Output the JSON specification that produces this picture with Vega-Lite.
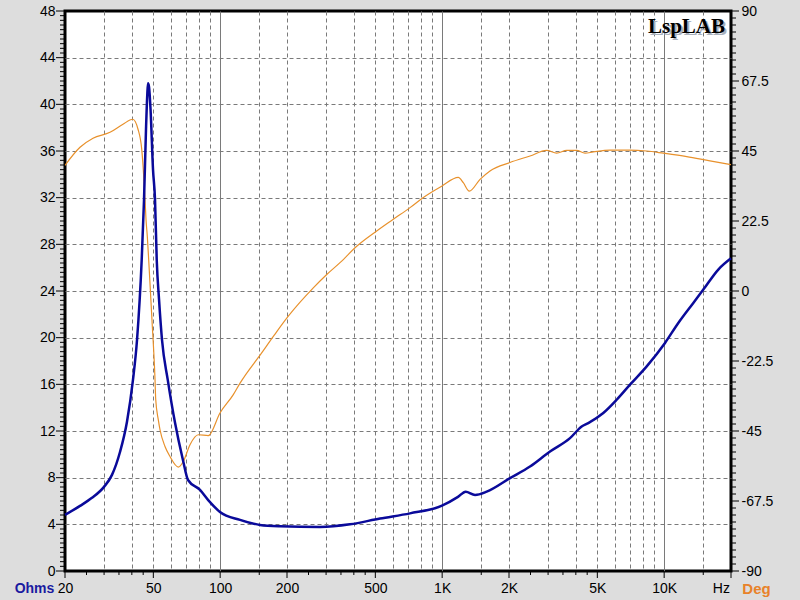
{
  "$schema": "https://vega.github.io/schema/vega-lite/v6.json",
  "width": 666,
  "height": 560,
  "autosize": {"type": "none"},
  "padding": {"left": 65, "top": 11, "right": 69, "bottom": 29},
  "background": "#DDDDDD",
  "config": {
    "view": {"fill": "#FFFFFF", "stroke": "#000000", "strokeWidth": 3},
    "axis": {
      "labelFont": "Liberation Sans",
      "labelFontSize": 14,
      "labelColor": "#000000",
      "tickColor": "#000000",
      "tickOpacity": 0,
      "domain": false,
      "labelOverlap": false,
      "labelFlush": false,
      "gridColor": "#7A7A7A",
      "gridWidth": 1,
      "titleFont": "Liberation Sans"
    }
  },
  "datasets": {
    "z": [
      {"f": 20, "z": 4.81}, {"f": 23.37, "z": 5.58}, {"f": 26.46, "z": 6.27}, {"f": 29.98, "z": 7.21},
      {"f": 32.56, "z": 8.24}, {"f": 35.38, "z": 10.2}, {"f": 38.04, "z": 12.8}, {"f": 40.49, "z": 16.4},
      {"f": 42.21, "z": 19.8}, {"f": 44.32, "z": 26.7}, {"f": 45.39, "z": 31.8}, {"f": 46.34, "z": 37.9},
      {"f": 46.97, "z": 40.9}, {"f": 47.31, "z": 41.8}, {"f": 47.81, "z": 41.5}, {"f": 48.56, "z": 39.6},
      {"f": 49.83, "z": 34.4}, {"f": 50.88, "z": 31.8}, {"f": 51.78, "z": 26.7}, {"f": 53.03, "z": 23.3},
      {"f": 54.71, "z": 19.8}, {"f": 58.04, "z": 16.4}, {"f": 62.61, "z": 12.7}, {"f": 68.01, "z": 9.5},
      {"f": 71.63, "z": 7.8}, {"f": 81.12, "z": 6.95}, {"f": 88.13, "z": 6.1}, {"f": 99.81, "z": 5.06},
      {"f": 122.9, "z": 4.38}, {"f": 151.1, "z": 3.95}, {"f": 186, "z": 3.84}, {"f": 281.7, "z": 3.78},
      {"f": 384.5, "z": 4.0}, {"f": 524.8, "z": 4.5}, {"f": 716.3, "z": 4.94}, {"f": 998, "z": 5.6},
      {"f": 1178, "z": 6.35}, {"f": 1276, "z": 6.8}, {"f": 1406, "z": 6.52}, {"f": 1587, "z": 6.8},
      {"f": 2021, "z": 7.96}, {"f": 2487, "z": 8.95}, {"f": 3060, "z": 10.24}, {"f": 3766, "z": 11.39},
      {"f": 4250, "z": 12.39}, {"f": 4552, "z": 12.68}, {"f": 5318, "z": 13.54}, {"f": 6112, "z": 14.68},
      {"f": 7016, "z": 15.97}, {"f": 8344, "z": 17.54}, {"f": 10088, "z": 19.55}, {"f": 11578, "z": 21.26},
      {"f": 13530, "z": 22.98}, {"f": 15008, "z": 24.12}, {"f": 17532, "z": 25.84}, {"f": 20000, "z": 26.8}
    ],
    "p": [
      {"f": 20, "p": 40.4}, {"f": 23.37, "p": 46.2}, {"f": 26.74, "p": 49.1}, {"f": 31.89, "p": 51.0},
      {"f": 36.49, "p": 53.6}, {"f": 40.37, "p": 55.2}, {"f": 42.65, "p": 52.0}, {"f": 44.32, "p": 45.6},
      {"f": 45.06, "p": 39.0}, {"f": 45.86, "p": 29.5}, {"f": 46.34, "p": 23.0}, {"f": 46.97, "p": 17.5},
      {"f": 47.64, "p": 10.1}, {"f": 49.3, "p": -9.3}, {"f": 50.88, "p": -28.5}, {"f": 51.25, "p": -34.9},
      {"f": 52.65, "p": -41.4}, {"f": 53.58, "p": -44.6}, {"f": 56.43, "p": -50.0}, {"f": 59.43, "p": -53.2},
      {"f": 64.77, "p": -56.6}, {"f": 68.22, "p": -54.8}, {"f": 73.13, "p": -49.4}, {"f": 79.71, "p": -46.2},
      {"f": 88.41, "p": -46.5}, {"f": 99.81, "p": -39.2}, {"f": 114.6, "p": -33.3}, {"f": 122.9, "p": -29.6},
      {"f": 153.8, "p": -19.9}, {"f": 173.6, "p": -14.6}, {"f": 202.7, "p": -8.1}, {"f": 262.7, "p": 1.0},
      {"f": 302, "p": 5.3}, {"f": 358.7, "p": 10.1}, {"f": 404.9, "p": 13.9}, {"f": 507.1, "p": 19.3},
      {"f": 600.4, "p": 23.0}, {"f": 716.3, "p": 26.8}, {"f": 819.6, "p": 30.0}, {"f": 995, "p": 33.7},
      {"f": 1182, "p": 36.5}, {"f": 1245, "p": 34.8}, {"f": 1325, "p": 32.1}, {"f": 1481, "p": 35.9},
      {"f": 1642, "p": 38.6}, {"f": 2021, "p": 41.3}, {"f": 2487, "p": 43.4}, {"f": 2957, "p": 45.2},
      {"f": 3280, "p": 44.3}, {"f": 3639, "p": 45.2}, {"f": 4036, "p": 45.2}, {"f": 4398, "p": 44.3},
      {"f": 4795, "p": 44.7}, {"f": 5700, "p": 45.3}, {"f": 7016, "p": 45.3}, {"f": 8344, "p": 45.0},
      {"f": 9912, "p": 44.3}, {"f": 12634, "p": 43.2}, {"f": 16086, "p": 41.8}, {"f": 20000, "p": 40.6}
    ],
    "leftMinor": [
      {"v": 0.4}, {"v": 0.8}, {"v": 1.2}, {"v": 1.6}, {"v": 2}, {"v": 2.4}, {"v": 2.8}, {"v": 3.2}, {"v": 3.6},
      {"v": 4.4}, {"v": 4.8}, {"v": 5.2}, {"v": 5.6}, {"v": 6}, {"v": 6.4}, {"v": 6.8}, {"v": 7.2}, {"v": 7.6},
      {"v": 8.4}, {"v": 8.8}, {"v": 9.2}, {"v": 9.6}, {"v": 10}, {"v": 10.4}, {"v": 10.8}, {"v": 11.2}, {"v": 11.6},
      {"v": 12.4}, {"v": 12.8}, {"v": 13.2}, {"v": 13.6}, {"v": 14}, {"v": 14.4}, {"v": 14.8}, {"v": 15.2}, {"v": 15.6},
      {"v": 16.4}, {"v": 16.8}, {"v": 17.2}, {"v": 17.6}, {"v": 18}, {"v": 18.4}, {"v": 18.8}, {"v": 19.2}, {"v": 19.6},
      {"v": 20.4}, {"v": 20.8}, {"v": 21.2}, {"v": 21.6}, {"v": 22}, {"v": 22.4}, {"v": 22.8}, {"v": 23.2}, {"v": 23.6},
      {"v": 24.4}, {"v": 24.8}, {"v": 25.2}, {"v": 25.6}, {"v": 26}, {"v": 26.4}, {"v": 26.8}, {"v": 27.2}, {"v": 27.6},
      {"v": 28.4}, {"v": 28.8}, {"v": 29.2}, {"v": 29.6}, {"v": 30}, {"v": 30.4}, {"v": 30.8}, {"v": 31.2}, {"v": 31.6},
      {"v": 32.4}, {"v": 32.8}, {"v": 33.2}, {"v": 33.6}, {"v": 34}, {"v": 34.4}, {"v": 34.8}, {"v": 35.2}, {"v": 35.6},
      {"v": 36.4}, {"v": 36.8}, {"v": 37.2}, {"v": 37.6}, {"v": 38}, {"v": 38.4}, {"v": 38.8}, {"v": 39.2}, {"v": 39.6},
      {"v": 40.4}, {"v": 40.8}, {"v": 41.2}, {"v": 41.6}, {"v": 42}, {"v": 42.4}, {"v": 42.8}, {"v": 43.2}, {"v": 43.6},
      {"v": 44.4}, {"v": 44.8}, {"v": 45.2}, {"v": 45.6}, {"v": 46}, {"v": 46.4}, {"v": 46.8}, {"v": 47.2}, {"v": 47.6}
    ],
    "leftMajor": [
      {"v": 0}, {"v": 4}, {"v": 8}, {"v": 12}, {"v": 16}, {"v": 20}, {"v": 24}, {"v": 28}, {"v": 32}, {"v": 36}, {"v": 40}, {"v": 44}, {"v": 48}
    ],
    "rightMinor": [
      {"v": -87.75}, {"v": -85.5}, {"v": -83.25}, {"v": -81}, {"v": -78.75}, {"v": -76.5}, {"v": -74.25}, {"v": -72}, {"v": -69.75},
      {"v": -65.25}, {"v": -63}, {"v": -60.75}, {"v": -58.5}, {"v": -56.25}, {"v": -54}, {"v": -51.75}, {"v": -49.5}, {"v": -47.25},
      {"v": -42.75}, {"v": -40.5}, {"v": -38.25}, {"v": -36}, {"v": -33.75}, {"v": -31.5}, {"v": -29.25}, {"v": -27}, {"v": -24.75},
      {"v": -20.25}, {"v": -18}, {"v": -15.75}, {"v": -13.5}, {"v": -11.25}, {"v": -9}, {"v": -6.75}, {"v": -4.5}, {"v": -2.25},
      {"v": 2.25}, {"v": 4.5}, {"v": 6.75}, {"v": 9}, {"v": 11.25}, {"v": 13.5}, {"v": 15.75}, {"v": 18}, {"v": 20.25},
      {"v": 24.75}, {"v": 27}, {"v": 29.25}, {"v": 31.5}, {"v": 33.75}, {"v": 36}, {"v": 38.25}, {"v": 40.5}, {"v": 42.75},
      {"v": 47.25}, {"v": 49.5}, {"v": 51.75}, {"v": 54}, {"v": 56.25}, {"v": 58.5}, {"v": 60.75}, {"v": 63}, {"v": 65.25},
      {"v": 69.75}, {"v": 72}, {"v": 74.25}, {"v": 76.5}, {"v": 78.75}, {"v": 81}, {"v": 83.25}, {"v": 85.5}, {"v": 87.75}
    ],
    "rightMajor": [
      {"v": -90}, {"v": -67.5}, {"v": -45}, {"v": -22.5}, {"v": 0}, {"v": 22.5}, {"v": 45}, {"v": 67.5}, {"v": 90}
    ],
    "bottomMinor": [
      {"v": 25}, {"v": 30}, {"v": 35}, {"v": 40}, {"v": 45}, {"v": 150}, {"v": 250}, {"v": 300}, {"v": 350}, {"v": 400}, {"v": 450},
      {"v": 1500}, {"v": 2500}, {"v": 3000}, {"v": 3500}, {"v": 4000}, {"v": 4500}, {"v": 15000}
    ],
    "bottomMajor": [
      {"v": 20}, {"v": 50}, {"v": 100}, {"v": 200}, {"v": 500}, {"v": 1000}, {"v": 2000}, {"v": 5000}, {"v": 10000}, {"v": 20000}
    ]
  },
  "layer": [
    {
      "layer": [
        {
          "data": {"name": "p"},
          "mark": {"type": "line", "color": "#E8912C", "strokeWidth": 1.2, "interpolate": "monotone"},
          "encoding": {
            "x": {
              "field": "f",
              "type": "quantitative",
              "scale": {"type": "log", "domain": [20, 20000], "nice": false},
              "axis": {
                "title": null,
                "tickCount": 1000,
                "values": [20, 30, 40, 50, 60, 70, 80, 90, 100, 150, 200, 300, 400, 500, 600, 700, 800, 900, 1000, 1500, 2000, 3000, 4000, 5000, 6000, 7000, 8000, 9000, 10000, 15000, 18000],
                "labelExpr": "datum.value == 18000 ? 'Hz' : (indexof([1000, 2000, 5000, 10000], datum.value) >= 0 ? (datum.value / 1000) + 'K' : (indexof([20, 50, 100, 200, 500], datum.value) >= 0 ? '' + datum.value : ''))",
                "labelPadding": 4,
                "tickSize": 6,
                "grid": true,
                "gridOpacity": {"condition": {"test": "datum.value == 20 || datum.value == 18000", "value": 0}, "value": 1},
                "gridDash": {"condition": {"test": "indexof([100, 1000, 10000], datum.value) >= 0", "value": []}, "value": [4, 3]}
              }
            },
            "y": {
              "field": "p",
              "type": "quantitative",
              "scale": {"domain": [-90, 90], "nice": false},
              "axis": {
                "orient": "right",
                "grid": false,
                "tickCount": 1000,
                "values": [-90, -67.5, -45, -22.5, 0, 22.5, 45, 67.5, 90],
                "labelExpr": "'' + datum.value",
                "tickSize": 6,
                "labelPadding": 4,
                "title": "Deg",
                "titleAngle": 0,
                "titleX": 25,
                "titleY": 577,
                "titleAlign": "center",
                "titleBaseline": "middle",
                "titleColor": "#E8822A",
                "titleFontWeight": "bold",
                "titleFontSize": 15
              }
            }
          }
        },
        {
          "data": {"name": "rightMinor"},
          "mark": {"type": "rule", "color": "#000000", "strokeWidth": 1, "x2Offset": 5, "clip": false, "zindex": 5},
          "encoding": {
            "x": {"datum": 20000, "type": "quantitative"},
            "x2": {"datum": 20000},
            "y": {"field": "v", "type": "quantitative"}
          }
        },
        {
          "data": {"name": "rightMajor"},
          "mark": {"type": "rule", "color": "#000000", "strokeWidth": 1, "x2Offset": 8, "clip": false, "zindex": 5},
          "encoding": {
            "x": {"datum": 20000, "type": "quantitative"},
            "x2": {"datum": 20000},
            "y": {"field": "v", "type": "quantitative"}
          }
        }
      ]
    },
    {
      "layer": [
        {
          "data": {"name": "z"},
          "mark": {"type": "line", "color": "#0A0A9A", "strokeWidth": 2.5, "interpolate": "monotone"},
          "encoding": {
            "x": {"field": "f", "type": "quantitative"},
            "y": {
              "field": "z",
              "type": "quantitative",
              "scale": {"domain": [0, 48], "nice": false},
              "axis": {
                "orient": "left",
                "tickCount": 1000,
                "values": [0, 4, 8, 12, 16, 20, 24, 28, 32, 36, 40, 44, 48],
                "labelExpr": "'' + datum.value",
                "tickSize": 6,
                "labelPadding": 4,
                "grid": true,
                "gridOpacity": {"condition": {"test": "datum.value > 0 && datum.value < 48", "value": 1}, "value": 0},
                "gridDash": [4, 3],
                "title": "Ohms",
                "titleAngle": 0,
                "titleX": -31,
                "titleY": 577,
                "titleAlign": "center",
                "titleBaseline": "middle",
                "titleColor": "#1A1AA0",
                "titleFontWeight": "bold",
                "titleFontSize": 14
              }
            }
          }
        },
        {
          "data": {"name": "leftMinor"},
          "mark": {"type": "rule", "color": "#000000", "strokeWidth": 1, "xOffset": -5, "clip": false, "zindex": 5},
          "encoding": {
            "x": {"datum": 20, "type": "quantitative"},
            "x2": {"datum": 20},
            "y": {"field": "v", "type": "quantitative"}
          }
        },
        {
          "data": {"name": "leftMajor"},
          "mark": {"type": "rule", "color": "#000000", "strokeWidth": 1, "xOffset": -9, "clip": false, "zindex": 5},
          "encoding": {
            "x": {"datum": 20, "type": "quantitative"},
            "x2": {"datum": 20},
            "y": {"field": "v", "type": "quantitative"}
          }
        },
        {
          "data": {"name": "bottomMinor"},
          "mark": {"type": "rule", "color": "#000000", "strokeWidth": 1, "y2Offset": 4, "clip": false, "zindex": 5},
          "encoding": {
            "x": {"field": "v", "type": "quantitative"},
            "y": {"datum": 0, "type": "quantitative"},
            "y2": {"datum": 0}
          }
        },
        {
          "data": {"name": "bottomMajor"},
          "mark": {"type": "rule", "color": "#000000", "strokeWidth": 1, "y2Offset": 7, "clip": false, "zindex": 5},
          "encoding": {
            "x": {"field": "v", "type": "quantitative"},
            "y": {"datum": 0, "type": "quantitative"},
            "y2": {"datum": 0}
          }
        },
        {
          "data": {"values": [{"label": "LspLAB"}]},
          "mark": {"type": "text", "align": "right", "baseline": "alphabetic", "font": "Liberation Serif", "fontWeight": "bold", "fontSize": 21, "color": "#A8B0BC", "dx": 2, "dy": 2},
          "encoding": {
            "x": {"datum": 18794, "type": "quantitative"},
            "y": {"datum": 46.15, "type": "quantitative"},
            "text": {"field": "label"}
          }
        },
        {
          "data": {"values": [{"label": "LspLAB"}]},
          "mark": {"type": "text", "align": "right", "baseline": "alphabetic", "font": "Liberation Serif", "fontWeight": "bold", "fontSize": 21, "color": "#000000"},
          "encoding": {
            "x": {"datum": 18794, "type": "quantitative"},
            "y": {"datum": 46.15, "type": "quantitative"},
            "text": {"field": "label"}
          }
        }
      ]
    }
  ],
  "resolve": {"scale": {"y": "independent"}}
}
